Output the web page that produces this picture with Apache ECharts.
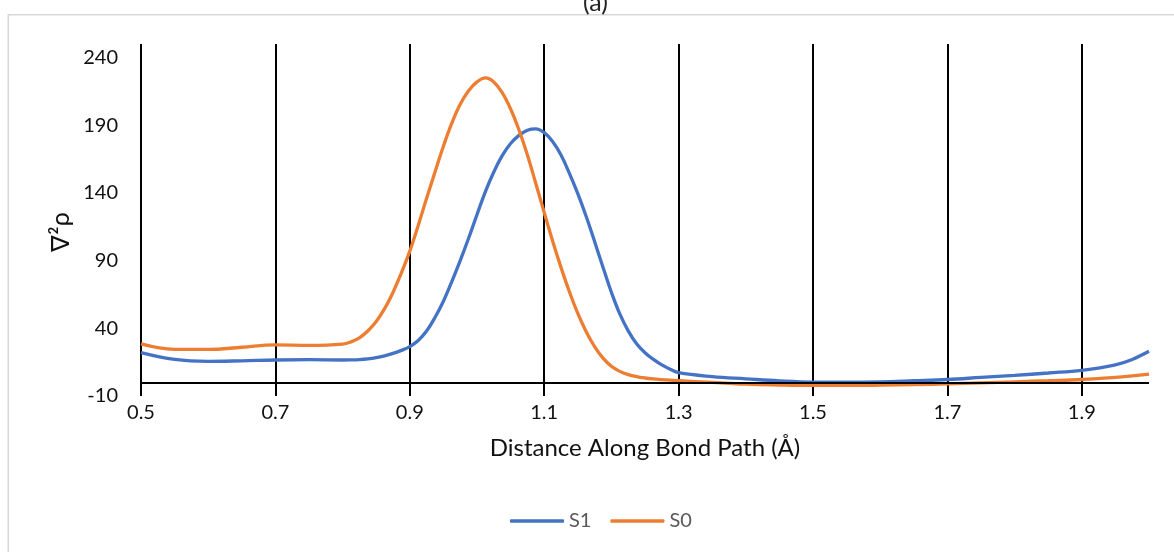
<!DOCTYPE html>
<html>
<head>
<meta charset="utf-8">
<script src="https://cdn.jsdelivr.net/npm/echarts@6/dist/echarts.min.js"></script>
<style>
  html, body { margin: 0; padding: 0; background: #fff; }
  #chart { width: 1174px; height: 552px; }
</style>
</head>
<body>
<div id="chart"></div>
<script>
// Distance along the bond path (Å)
const distance = [0.50, 0.55, 0.60, 0.65, 0.70, 0.75, 0.80,
  0.8125, 0.825, 0.8375, 0.85, 0.8625, 0.875, 0.8875, 0.90, 0.9125, 0.925, 0.9375, 0.95,
  0.9625, 0.975, 0.9875, 1.00, 1.0125, 1.025, 1.0375, 1.05, 1.0625, 1.075, 1.0875, 1.10,
  1.1125, 1.125, 1.1375, 1.15, 1.1625, 1.175, 1.1875, 1.20, 1.2125, 1.225, 1.2375, 1.25,
  1.2625, 1.275, 1.2875, 1.30,
  1.35, 1.40, 1.45, 1.50, 1.55, 1.60, 1.65, 1.70, 1.75, 1.80, 1.85, 1.90, 1.95, 1.975, 2.00];

// Laplacian of the electron density, excited state S1
const lapS1 = [22, 17, 15.6, 16, 16.6, 16.8, 16.6,
  16.7, 16.9, 17.4, 18.3, 19.7, 21.5, 23.7, 26.5, 31, 38, 48, 60,
  74.5, 90, 106.5, 124, 141, 155.5, 167.5, 176.5, 182.5, 186.3, 187.3, 184.5,
  178, 168, 154.5, 139.5, 122.6, 104.1, 85.1, 66.6, 50.6, 38.1, 28.6, 22,
  17, 13, 9.8, 7.2,
  4.3, 2.7, 1.2, 0.3, 0.2, 0.5, 1.3, 2.2, 3.7, 5.2, 7, 9, 13, 17, 23];

// Laplacian of the electron density, ground state S0
const lapS0 = [28.5, 24.5, 24.4, 26, 27.7, 27.4, 28.3,
  30, 33, 38, 45, 54.5, 66.5, 81, 97, 116, 136, 155.5, 174.5,
  191.5, 205.5, 215.5, 222, 225, 222, 214, 202, 186.5, 168, 147, 125.5,
  104.5, 85, 67, 51, 37.5, 26.5, 18, 12, 8.2, 5.8, 4.3, 3.3,
  2.6, 2.1, 1.7, 1.3,
  0, -1.3, -1.9, -2.2, -2.2, -2, -1.6, -1.1, -0.3, 0.5, 1.3, 2.2, 3.8, 4.8, 6.2];

const seriesNames = ['S1', 'S0'];
const seriesColors = ['#4472C4', '#ED7D31'];
const xTitle = 'Distance Along Bond Path (Å)';
const yTitle = '∇²ρ';
const chartTitle = '(a)';

const FONT = 'Lato, "Open Sans", sans-serif';

const pairs = (ys) => distance.map((x, i) => [x, ys[i]]);

const chart = echarts.init(document.getElementById('chart'), null, { renderer: 'canvas' });

chart.setOption({
  animation: false,
  backgroundColor: '#fff',
  title: {
    text: chartTitle,
    left: 578,
    top: -15,
    textStyle: { fontFamily: FONT, fontSize: 25, fontWeight: 'normal', color: '#222' }
  },
  graphic: [
    {
      type: 'rect',
      silent: true,
      shape: { x: 8.3, y: 14.8, width: 1200, height: 600 },
      style: { fill: 'none', stroke: '#d9d9d9', lineWidth: 1.6 },
      z: -1
    },
    {
      type: 'text',
      silent: true,
      x: 61,
      y: 232,
      rotation: Math.PI / 2,
      style: {
        text: yTitle,
        fontFamily: FONT,
        fontSize: 25,
        fill: '#111',
        align: 'center',
        verticalAlign: 'middle'
      }
    }
  ],
  legend: {
    data: seriesNames.map((n) => ({ name: n, icon: 'roundRect' })),
    left: 510,
    top: 510,
    padding: 0,
    itemWidth: 54,
    itemHeight: 3.5,
    itemGap: 19,
    textStyle: { fontFamily: FONT, fontSize: 20, color: '#595959', lineHeight: 22 }
  },
  grid: {
    left: 141,
    right: 25,
    top: 44,
    bottom: 156,
    outerBoundsMode: 'none'
  },
  xAxis: {
    type: 'value',
    min: 0.5,
    max: 2.0,
    interval: 0.2,
    name: xTitle,
    nameLocation: 'middle',
    nameGap: 40,
    nameTextStyle: { fontFamily: FONT, fontSize: 24, color: '#111' },
    axisLine: { show: false },
    axisTick: { show: false },
    axisLabel: {
      fontFamily: FONT,
      fontSize: 20,
      color: '#111',
      margin: 7,
      showMaxLabel: false,
      formatter: (v) => v.toFixed(1)
    },
    splitLine: {
      show: true,
      showMinLine: true,
      showMaxLine: false,
      lineStyle: { color: '#000', width: 2 }
    }
  },
  yAxis: {
    type: 'value',
    min: -10,
    max: 250,
    interval: 50,
    axisLine: { show: false },
    axisTick: { show: false },
    splitLine: { show: false },
    axisLabel: {
      fontFamily: FONT,
      fontSize: 20,
      color: '#111',
      margin: 23,
      showMaxLabel: false
    }
  },
  series: [
    {
      name: seriesNames[0],
      type: 'line',
      data: pairs(lapS1),
      smooth: 0.4,
      symbol: 'none',
      lineStyle: { color: seriesColors[0], width: 3.3 },
      itemStyle: { color: seriesColors[0] },
      markLine: {
        silent: true,
        symbol: ['none', 'none'],
        label: { show: false },
        lineStyle: { color: '#000', width: 2, type: 'solid' },
        data: [{ yAxis: 0 }]
      }
    },
    {
      name: seriesNames[1],
      type: 'line',
      data: pairs(lapS0),
      smooth: 0.4,
      symbol: 'none',
      lineStyle: { color: seriesColors[1], width: 3.3 },
      itemStyle: { color: seriesColors[1] }
    }
  ]
});
</script>
</body>
</html>
